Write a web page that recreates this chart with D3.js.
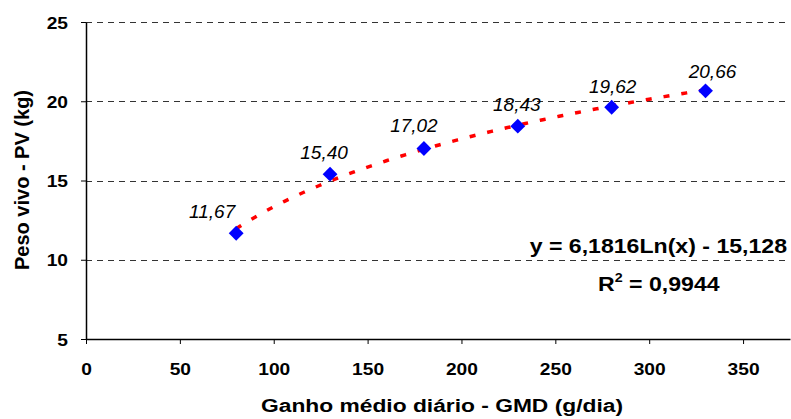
<!DOCTYPE html>
<html>
<head>
<meta charset="utf-8">
<script src="https://cdn.jsdelivr.net/npm/d3@7"></script>
<style>
  body { margin: 0; background: #fff; }
  svg { display: block; font-family: "Liberation Sans", Arial, sans-serif; }
</style>
</head>
<body>
<div id="chart"></div>
<script>
// dados
const gmd = [80, 130, 180, 230, 280, 330];
const pesoVivo = [11.67, 15.40, 17.02, 18.43, 19.62, 20.66];
const rotulos = ['11,67', '15,40', '17,02', '18,43', '19,62', '20,66'];
const xTicks = [0, 50, 100, 150, 200, 250, 300, 350];
const yTicks = [5, 10, 15, 20, 25];
// linha de tendência logarítmica (coeficientes da equação mostrada)
const coefA = 6.1816;
const coefB = -15.128;
const equacao = 'y = 6,1816Ln(x) - 15,128';
const r2Texto = ' = 0,9944';

const W = 791, H = 419;
const margin = { top: 22, right: 1, bottom: 80, left: 86 };

const svg = d3.select('#chart')
    .append('svg')
    .attr('width', W)
    .attr('height', H);

const x = d3.scaleLinear().domain([0, 375]).range([margin.left, W - margin.right]);
const y = d3.scaleLinear().domain([5, 25]).range([H - margin.bottom, margin.top]);

// o gráfico original está esticado na horizontal
const stretchText = (sel, px, py, k) => sel.attr('transform', `translate(${px},${py}) scale(${k},1)`);

// linhas de grade tracejadas
svg.append('g')
    .selectAll('line')
    .data(yTicks.filter(d => d > 5))
    .enter()
    .append('line')
    .attr('x1', x(0))
    .attr('x2', x(375) - 5)
    .attr('y1', d => Math.round(y(d)) + 0.5)
    .attr('y2', d => Math.round(y(d)) + 0.5)
    .style('stroke', '#333')
    .style('stroke-dasharray', '6,5');

// eixos
const xAxis = svg.append('g')
    .attr('transform', `translate(0,${y(5)})`)
    .call(d3.axisBottom(x).tickValues(xTicks).tickSize(5).tickPadding(19).tickSizeOuter(0));
const yAxis = svg.append('g')
    .attr('transform', `translate(${x(0)},0)`)
    .call(d3.axisLeft(y).tickValues(yTicks).tickSize(5).tickPadding(13).tickSizeOuter(0));

[xAxis, yAxis].forEach(ax => {
    ax.select('.domain').style('stroke', '#000').style('stroke-width', 1.5);
    ax.selectAll('.tick line').style('stroke', '#000');
    ax.selectAll('.tick text')
        .style('font-family', '"Liberation Sans", Arial, sans-serif')
        .style('font-size', '17px')
        .style('font-weight', 'bold')
        .style('fill', '#000');
});
xAxis.selectAll('.tick text').attr('transform', 'scale(1.13,1)');
yAxis.selectAll('.tick text')
    .attr('dy', '0.36em')
    .attr('x', -18 / 1.13)
    .attr('transform', 'scale(1.13,1)');

// linha de tendência
const tendencia = d3.range(gmd[0], gmd[gmd.length - 1] + 0.1, 2)
    .map(v => [v, coefA * Math.log(v) + coefB]);

svg.append('path')
    .datum(tendencia)
    .attr('d', d3.line().x(d => x(d[0])).y(d => y(d[1])))
    .style('fill', 'none')
    .style('stroke', '#ff0000')
    .style('stroke-width', 3.5)
    .style('stroke-dasharray', '6,12');

// pontos (losangos)
svg.append('g')
    .selectAll('path')
    .data(gmd.map((v, i) => ({ x: v, y: pesoVivo[i] })))
    .enter()
    .append('path')
    .attr('transform', d => `translate(${x(d.x)},${y(d.y)})`)
    .attr('d', d3.symbol().type(d3.symbolDiamond2).size(140))
    .style('fill', '#0000ff');

// rótulos dos pontos (deslocamentos como no original)
const ajusteX = [-24, -6, -10, -1, 1, 7];
const ajusteY = [-15.5, -15, -16.5, -15, -14.5, -12.5];
svg.append('g')
    .selectAll('text')
    .data(gmd.map((v, i) => ({ x: v, y: pesoVivo[i], t: rotulos[i], i })))
    .enter()
    .append('text')
    .attr('x', d => x(d.x) + ajusteX[d.i])
    .attr('y', d => y(d.y) + ajusteY[d.i])
    .attr('text-anchor', 'middle')
    .style('font-size', '19px')
    .style('font-style', 'italic')
    .text(d => d.t);

// equação e R²
svg.append('text')
    .call(stretchText, 787, 253, 1.1)
    .attr('text-anchor', 'end')
    .style('font-size', '21px')
    .style('font-weight', 'bold')
    .text(equacao);

const r2 = svg.append('text')
    .call(stretchText, 598, 291, 1.1)
    .style('font-size', '21px')
    .style('font-weight', 'bold');
r2.append('tspan').text('R');
r2.append('tspan').attr('dy', -9).style('font-size', '13px').text('2');
r2.append('tspan').attr('dy', 9).text(r2Texto);

// títulos dos eixos
svg.append('text')
    .call(stretchText, 442, 412, 1.2)
    .attr('text-anchor', 'middle')
    .style('font-size', '19px')
    .style('font-weight', 'bold')
    .text('Ganho médio diário - GMD (g/dia)');

svg.append('text')
    .attr('transform', 'translate(29,180) rotate(-90)')
    .attr('text-anchor', 'middle')
    .style('font-size', '20px')
    .style('font-weight', 'bold')
    .text('Peso vivo - PV (kg)');
</script>
</body>
</html>
